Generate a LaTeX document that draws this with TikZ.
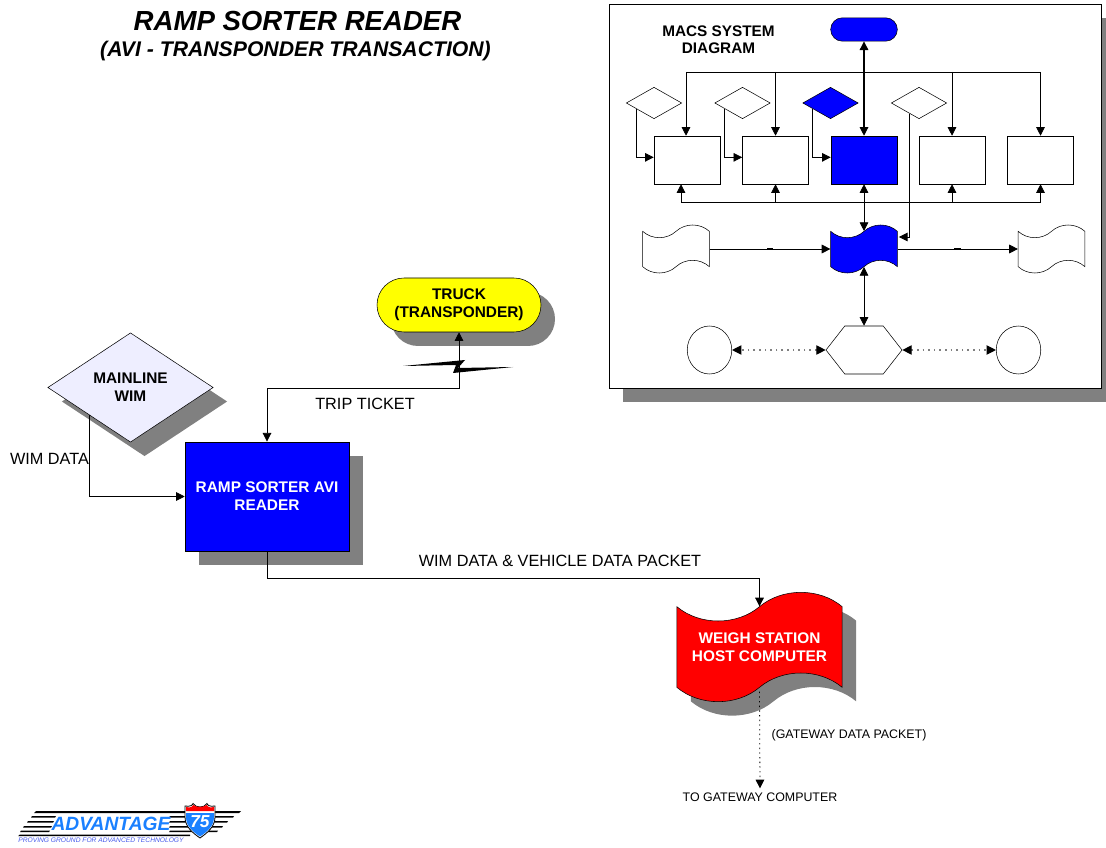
\documentclass[tikz,border=0pt]{standalone}
\usepackage{fontspec}
\setmainfont{Liberation Sans}
\usetikzlibrary{positioning, arrows.meta, shapes.geometric, shapes.misc, shapes.symbols, shadows}

\definecolor{macsblue}{RGB}{0,0,255}
\definecolor{wimlilac}{RGB}{238,238,255}
\definecolor{shadowgray}{RGB}{128,128,128}
\definecolor{logoblue}{RGB}{26,128,255}
\definecolor{tagblue}{RGB}{70,90,235}
\definecolor{truckyellow}{RGB}{255,255,0}
\definecolor{hostred}{RGB}{255,0,0}

\begin{document}
\begin{tikzpicture}[
  x=0.75pt, y=-0.75pt,
  font=\fontsize{12.2}{14}\selectfont,
  big/.style={drop shadow={shadow xshift=10.5pt, shadow yshift=-10.5pt, opacity=1, fill=shadowgray}},
  label/.style={inner sep=0pt, align=center},
  mainbox/.style={draw, fill=macsblue, text=white, minimum width=123pt, minimum height=82pt, align=center, inner sep=0pt, font=\fontsize{11.55}{13.5}\selectfont\bfseries},
  truckpill/.style={draw, rounded rectangle, fill=truckyellow, minimum width=123pt, minimum height=40.5pt, align=center, inner sep=0pt, font=\fontsize{11.55}{13.5}\selectfont\bfseries},
  wimdia/.style={draw, diamond, fill=wimlilac, minimum width=124pt, minimum height=82pt, align=center, inner sep=0pt, font=\fontsize{11.55}{13.5}\selectfont\bfseries},
  wave/.style={draw, tape, tape bend top=in and out, tape bend bottom=in and out, inner sep=0pt, align=center},
  hostwave/.style={wave, fill=hostred, text=white, minimum width=124pt, minimum height=82pt, tape bend height=21.5pt, font=\fontsize{11.55}{13.5}\selectfont\bfseries},
  mwave/.style={wave, minimum width=50pt, minimum height=36pt, tape bend height=9.5pt},
  mbox/.style={draw, minimum width=49.6pt, minimum height=36pt, inner sep=0pt},
  mdia/.style={draw, diamond, minimum width=41.6pt, minimum height=23.6pt, inner sep=0pt},
  mcirc/.style={draw, ellipse, minimum width=33.4pt, minimum height=36pt, inner sep=0pt},
  mhex/.style={draw, signal, signal to=west and east, signal pointer angle=104, minimum width=57pt, minimum height=36pt, inner sep=0pt},
  arr/.style={->, >={Triangle[length=6.5pt, width=6.5pt]}, semithick},
  bus/.style={semithick},
  dots/.style={<->, >={Triangle[length=7pt, width=7pt, color=black]}, dash pattern=on 1.2pt off 3pt, thick, draw=shadowgray},
  tick/.style={fill=black, minimum width=5pt, minimum height=1.5pt, inner sep=0pt}
]
\useasboundingbox (0,0) rectangle (1106,848);

% --- titles ---
\node[label, font=\fontsize{20.7}{21}\selectfont\bfseries\itshape] (title) at (297.5,21) {RAMP SORTER READER};
\node[label, font=\fontsize{15.9}{16}\selectfont\bfseries\itshape] (subtitle) at (295.5,51) {(AVI - TRANSPONDER TRANSACTION)};

% --- main flow ---
\node[truckpill, big] (truck)  at (459,305)   {TRUCK\\(TRANSPONDER)};
\node[wimdia, big]    (wim)    at (130.5,387.5) {MAINLINE\\WIM};
\node[mainbox, big]   (reader) at (267,496.5) {RAMP SORTER AVI\\READER};
\node[hostwave, big]  (host)   at (759.5,647) {WEIGH STATION\\HOST COMPUTER};

\node[label] (trip)    at (365,404)   {TRIP TICKET};
\node[label] (wimdata) at (49.5,459)  {WIM DATA};
\node[label] (packet)  at (560,561)   {WIM DATA \& VEHICLE DATA PACKET};
\node[label, font=\fontsize{9.3}{10}\selectfont] (gateway) at (849,735) {(GATEWAY DATA PACKET)};
\node[label, font=\fontsize{9.3}{10}\selectfont] (togate)  at (760,797)   {TO GATEWAY COMPUTER};

\draw[arr, <->] (truck.south) -- ++(0,56) -| (reader.north);
\draw[arr] (wim.south west) |- (reader.west);
\draw[arr] (reader.south) -- ++(0,27) -| (host.north);
\draw[arr, dash pattern=on 1pt off 2.5pt] ([yshift=-3pt]host.south) -- ([yshift=3pt]togate.north);

% radio link on the truck line
\fill (403,366) -- (465,360) -- (458,368) -- (513,367) -- (453,373) -- (456,365) -- cycle;

% --- MACS inset ---
\node[draw, big, fill=white, minimum width=369pt, minimum height=288pt, inner sep=0pt] (panel) at (855,196) {};
\node[label, font=\fontsize{11.5}{13}\selectfont\bfseries] (macs) at (718.5,39.5) {MACS SYSTEM\\DIAGRAM};

\node[draw, rounded rectangle, fill=macsblue, minimum width=50pt, minimum height=17.5pt, inner sep=0pt] (term) at (864,29.5) {};

% boxes and their decisions
\node[mbox]                 (boxa) at (687,160)   {};
\node[mbox]                 (boxb) at (775.5,160) {};
\node[mbox, fill=macsblue]  (boxc) at (864,160)   {};
\node[mbox]                 (boxd) at (952,160)   {};
\node[mbox]                 (boxe) at (1040.5,160){};
\node[mdia]                 (diaa) at (654,103)   {};
\node[mdia]                 (diab) at (742.5,103) {};
\node[mdia, fill=macsblue]  (diac) at (830.5,103) {};
\node[mdia]                 (diad) at (919,103)   {};

\node[mwave]                (docl) at (676,249)    {};
\node[mwave, fill=macsblue] (docc) at (864,249)    {};
\node[mwave]                (docr) at (1051.5,249) {};

\node[mhex]  (hexc)  at (864,350)    {};
\node[mcirc] (circl) at (709.5,350)  {};
\node[mcirc] (circr) at (1018.5,350) {};

% top bus
\coordinate (topjoin) at (864,72);
\draw[bus] ([xshift=-0.75pt]boxa.north|-topjoin) -- (boxe.north|-topjoin);
\draw[arr] ([xshift=-0.75pt]boxa.north|-topjoin) -- ([xshift=-0.75pt]boxa.north);
\draw[arr] (boxb.north|-topjoin) -- (boxb.north);
\draw[arr] (boxd.north|-topjoin) -- (boxd.north);
\draw[arr] (boxe.north|-topjoin) -- (boxe.north);
\draw[arr, <->, thick] (term.south) -- (boxc.north);

% decisions into boxes
\draw[arr] (diaa.198) |- ([yshift=2pt]boxa.west);
\draw[arr] (diab.198) |- ([yshift=2pt]boxb.west);
\draw[arr] (diac.198) |- ([yshift=2pt]boxc.west);
\draw[arr] (diad.228) |- ([yshift=9pt,xshift=1pt]docc.east);

% bottom bus
\coordinate (lowjoin) at (864,202);
\draw[bus] ([xshift=-4.5pt]boxa.south|-lowjoin) -- (boxe.south|-lowjoin);
\draw[arr] ([xshift=-4.5pt]boxa.south|-lowjoin) -- ([xshift=-4.5pt]boxa.south);
\draw[arr] (boxb.south|-lowjoin) -- (boxb.south);
\draw[arr] (boxd.south|-lowjoin) -- (boxd.south);
\draw[arr] (boxe.south|-lowjoin) -- (boxe.south);
\draw[arr, <->] (boxc.south) -- (docc.north);

% document row
\draw[arr] (docl.east) -- node[tick] (ticka) {} (docc.west);
\draw[arr] (docc.east) -- node[tick] (tickb) {} (docr.west);
\draw[arr, <->] (docc.south) -- (hexc.north);
\draw[dots] (hexc.west) -- (circl.east);
\draw[dots] (hexc.east) -- (circr.west);

% --- logo ---
\foreach \ya/\xa/\xb in {816/32/56, 821/28/54, 826/24/52, 830.5/21/50}
  \fill (\xa,\ya) -- (\xb,\ya) -- (\xb-1,\ya+1.7) -- (\xa-1,\ya+1.7) -- cycle;
\foreach \ya/\xa/\xb in {816/170/234, 821/170/228, 826/170/223, 830.5/170/218}
  \fill (\xa,\ya) -- (\xb,\ya) -- (\xb-1,\ya+1.7) -- (\xa-1,\ya+1.7) -- cycle;
\fill (36,811) -- (241,811) -- (239,813) -- (34,813) -- cycle;
\fill (20,834.5) -- (190,834.5) -- (190,836.2) -- (18,836.2) -- cycle;
\node[label, text=logoblue, font=\fontsize{14.4}{15}\selectfont\itshape\bfseries] (advantage) at (111,823.5) {ADVANTAGE};
\node[label, text=tagblue, font=\fontsize{5}{5}\selectfont\itshape] (tagline) at (101,840.5) {PROVING GROUND FOR ADVANCED TECHNOLOGY};
\fill[white, draw=black, semithick] (185,806) .. controls (190,807) and (193,805) .. (193,803.5) .. controls (195,806) and (197,807) .. (200,807) .. controls (203,807) and (205,806) .. (207,803.5) .. controls (207,805) and (210,807) .. (215,806) -- (215,817) .. controls (215,827) and (207,833) .. (200,838) .. controls (193,833) and (185,827) .. (185,817) -- cycle;
\fill[hostred] (186,807) .. controls (190,808) and (193,807) .. (193.5,805) .. controls (196,807.5) and (204,807.5) .. (206.5,805) .. controls (207,807) and (210,808) .. (214,807) -- (214,811) -- (186,811) -- cycle;
\fill[logoblue] (186,813) -- (214,813) -- (214,817) .. controls (214,826) and (207,832) .. (200,836.5) .. controls (193,832) and (186,826) .. (186,817) -- cycle;
\node[label, text=white, font=\fontsize{13}{13}\selectfont\itshape\bfseries] (seventyfive) at (200,822) {75};
\end{tikzpicture}
\end{document}
